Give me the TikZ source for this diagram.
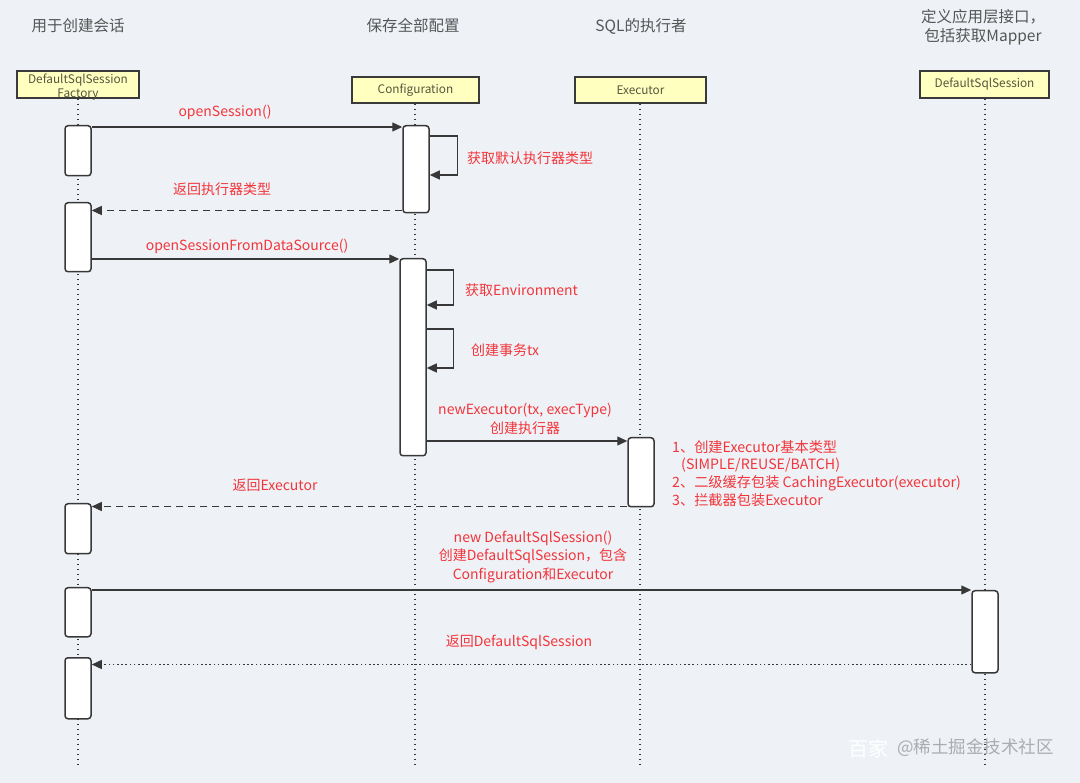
\documentclass[tikz,border=0pt]{standalone}
\usepackage{fontspec}
\setmainfont{Noto Sans CJK SC}
\usetikzlibrary{arrows.meta,positioning,calc}
\definecolor{bg}{HTML}{EEF2F7}
\definecolor{hdrfill}{HTML}{FFFFC0}
\definecolor{hdrline}{HTML}{3A3A3A}
\definecolor{hdrtext}{HTML}{55553F}
\definecolor{toptext}{HTML}{555555}
\definecolor{lbl}{HTML}{F2353A}
\definecolor{ln}{HTML}{383838}
\definecolor{wm}{HTML}{A9ADB2}
\tikzset{
  hdr/.style={draw=hdrline, fill=hdrfill, line width=1.6pt, inner sep=0pt,
    text=hdrtext, font=\fontsize{11.8}{13}\selectfont},
  tophead/.style={text=toptext, font=\fontsize{15.5}{20}\selectfont, align=center},
  act/.style={draw=ln, fill=white, line width=1.5pt, rounded corners=3pt,
    minimum width=26pt, inner sep=0pt, anchor=north},
  life/.style={draw=ln, line width=1.6pt, dash pattern=on 1.6pt off 3.4pt},
  msg/.style={draw=ln, line width=1.3pt, -{Triangle[length=10pt,width=9pt]}},
  retd/.style={msg, dash pattern=on 7pt off 5pt},
  reto/.style={msg, dash pattern=on 1.6pt off 2.6pt},
  lab/.style={text=lbl, font=\fontsize{14}{18}\selectfont, inner sep=0pt, align=center},
  note/.style={text=lbl, font=\fontsize{14.2}{18}\selectfont, inner sep=0pt, anchor=west},
}
\begin{document}
\begin{tikzpicture}[x=1pt,y=-1pt]
\fill[bg] (0,0) rectangle (1080,783);
\useasboundingbox (0,0) rectangle (1080,783);

% top headings
\node[tophead] (t1) at (78,26) {用于创建会话};
\node[tophead] (t2) at (413,26) {保存全部配置};
\node[tophead] (t3) at (641,26) {SQL的执行者};
\node[tophead, font=\fontsize{15.5}{19}\selectfont] (t4) at (983,27) {定义应用层接口，\\包括获取Mapper};

% header boxes
\node[hdr, minimum width=122pt, minimum height=27pt] (h1) at (78,84.5) {};
\node[text=hdrtext, font=\fontsize{11.8}{14}\selectfont, align=center, inner sep=0pt] (h1t) at (78,87) {DefaultSqlSession\\Factory};
\node[hdr, minimum width=127pt, minimum height=26pt] (h2) at (415.5,90) {Configuration};
\node[hdr, minimum width=131pt, minimum height=26pt] (h3) at (640.5,90) {Executor};
\node[hdr, minimum width=129pt, minimum height=27pt] (h4) at (984.5,84.5) {DefaultSqlSession};

% lifeline ends
\coordinate (e1) at (78,765);
\coordinate (e2) at (415,765);
\coordinate (e3) at (640,765);
\coordinate (e4) at (985,765);
\draw[life] (h1.south -| 78,0) -- (e1);
\draw[life] (h2.south -| 415,0) -- (e2);
\draw[life] (h3.south -| 640,0) -- (e3);
\draw[life] (h4.south -| 985,0) -- (e4);

% activations
\node[act, minimum height=50pt] (a1) at (78,125) {};
\node[act, minimum height=69pt] (a2) at (78,202) {};
\node[act, minimum height=50pt] (a3) at (78,503) {};
\node[act, minimum height=49pt] (a4) at (78,587) {};
\node[act, minimum height=61pt] (a5) at (78,657) {};
\node[act, minimum height=87pt] (c1) at (416,125) {};
\node[act, minimum height=197pt] (c2) at (413,258) {};
\node[act, minimum height=69pt] (x1) at (641,437) {};
\node[act, minimum height=82pt] (d1) at (985,590) {};

% openSession
\draw[msg] ([yshift=-2pt]a1.north east) -- ([yshift=-2pt]c1.north west);
\node[lab] (l1) at (225,112) {openSession()};
% self loop 1
\draw[msg] ([yshift=-11pt]c1.north east) -- ++(28,0) -- ++(0,39) -- ++(-28,0);
\node[lab, anchor=west] (l2) at (467,158) {获取默认执行器类型};
% return exec type
\draw[retd] ([yshift=3pt]c1.south west) -- ([yshift=3pt]c1.south west -| a2.east);
\node[lab] (l3) at (222,189) {返回执行器类型};
% openSessionFromDataSource
\draw[msg] ([yshift=-1pt]c2.north west -| a2.east) -- ([yshift=-1pt]c2.north west);
\node[lab] (l4) at (247,246) {openSessionFromDataSource()};
% self loops on c2
\draw[msg] ([yshift=-12pt]c2.north east) -- ++(27,0) -- ++(0,35) -- ++(-27,0);
\node[lab, anchor=west] (l5) at (465,290) {获取Environment};
\draw[msg] ([yshift=-71pt]c2.north east) -- ++(27,0) -- ++(0,39) -- ++(-27,0);
\node[lab, anchor=west] (l6) at (471,350) {创建事务tx};
% newExecutor
\draw[msg] ([yshift=-4pt]x1.north west -| c2.east) -- ([yshift=-4pt]x1.north west);
\node[lab] (l7) at (525,410) {newExecutor(tx, execType)};
\node[lab] (l8) at (525,428) {创建执行器};
% executor note
\node[note] (n1) at (672,447) {1、创建Executor基本类型};
\node[note] (n2) at (681,465) {(SIMPLE/REUSE/BATCH)};
\node[note] (n3) at (672,483) {2、二级缓存包装 CachingExecutor(executor)};
\node[note] (n4) at (672,500) {3、拦截器包装Executor};
% return Executor
\draw[retd] ([yshift=1pt]x1.south west) -- ([yshift=1pt]x1.south west -| a3.east);
\node[lab] (l9) at (275,485) {返回Executor};
% new DefaultSqlSession
\draw[msg] ([yshift=-3pt]a4.north east) -- (d1.north west);
\node[lab, font=\fontsize{14}{18.5}\selectfont] (l10) at (533,557) {new DefaultSqlSession()\\创建DefaultSqlSession，包含\\Configuration和Executor};
% return DefaultSqlSession
\draw[reto] ([yshift=9pt]d1.south west) -- ([yshift=9pt]d1.south west -| a5.east);
\node[lab] (l11) at (519,642) {返回DefaultSqlSession};

% watermark
\node[text=white, font=\fontsize{20}{22}\selectfont, anchor=west, inner sep=0pt] (w1) at (848,749) {百家};
\node[text=wm, font=\fontsize{17.5}{20}\selectfont, anchor=west, inner sep=0pt] (w2) at (897,748) {@稀土掘金技术社区};
\end{tikzpicture}
\end{document}
